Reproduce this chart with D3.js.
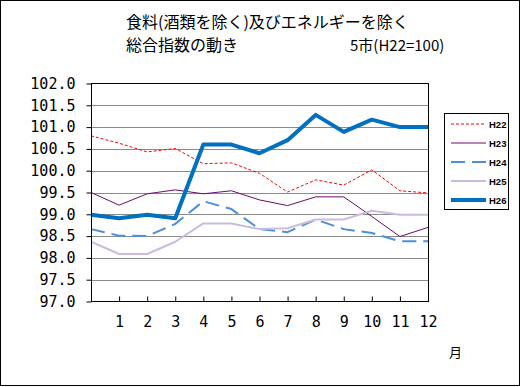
<!DOCTYPE html>
<html><head><meta charset="utf-8">
<script src="https://cdn.jsdelivr.net/npm/d3@7"></script>
<style>
html,body{margin:0;padding:0;background:#fff;}
svg{display:block;}
</style></head>
<body>
<svg id="chart" width="522" height="387"></svg>
<script>
const titleLine1 = "食料(酒類を除く)及びエネルギーを除く";
const titleLine2 = "総合指数の動き";
const titleNote = "5市(H22=100)";
const xUnit = "月";
const months = [0,1,2,3,4,5,6,7,8,9,10,11,12];
const xTickLabels = [1,2,3,4,5,6,7,8,9,10,11,12];
const yTicks = [97.0,97.5,98.0,98.5,99.0,99.5,100.0,100.5,101.0,101.5,102.0];
const seriesNames = ["H22","H23","H24","H25","H26"];
const h22 = [100.80,100.63,100.43,100.51,100.16,100.18,99.94,99.51,99.79,99.67,100.02,99.54,99.49];
const h23 = [99.50,99.21,99.47,99.56,99.47,99.54,99.33,99.20,99.40,99.40,98.95,98.49,98.70];
const h24 = [98.66,98.51,98.50,98.78,99.30,99.12,98.66,98.59,98.88,98.66,98.57,98.38,98.38];
const h25 = [98.37,98.09,98.09,98.37,98.79,98.79,98.66,98.68,98.88,98.88,99.08,98.99,98.99];
const h26 = [98.99,98.91,98.99,98.91,100.60,100.60,100.40,100.70,101.28,100.89,101.17,101.00,101.00];

const seriesValues = [h22,h23,h24,h25,h26];
const styles = [
  {color:"#ff0000", width:1, dash:"3,2"},
  {color:"#6e0a6e", width:1, dash:null},
  {color:"#4a90da", width:2, dash:"14,7"},
  {color:"#cbbcdf", width:2, dash:null},
  {color:"#0070c0", width:4, dash:null}
];

const svg = d3.select("#chart");
const L = 91, R = 428, T = 83.5, B = 301.5;
const x = d3.scaleLinear().domain([0,12]).range([L,R]);
const y = d3.scaleLinear().domain([97,102]).range([B,T]);

// outer border
svg.append("rect").attr("x",0.5).attr("y",0.5).attr("width",519).attr("height",385)
  .attr("fill","#fff").attr("stroke","#000");

// titles
const jp = "'Noto Sans CJK JP', sans-serif";
svg.append("text").attr("x",126).attr("y",28).attr("font-family",jp).attr("font-size",16)
  .text(titleLine1);
svg.append("text").attr("x",126).attr("y",51).attr("font-family",jp).attr("font-size",16)
  .text(titleLine2);
svg.append("text").attr("x",350).attr("y",51).attr("font-family",jp).attr("font-size",15)
  .text(titleNote);

// gridlines
svg.append("g").selectAll("line").data(yTicks.filter(v=>v>97 && v<102)).join("line")
  .attr("x1",L).attr("x2",R).attr("y1",d=>Math.round(y(d))+0.5).attr("y2",d=>Math.round(y(d))+0.5)
  .attr("stroke","#8a8a8a").attr("stroke-width",1);

// y axis
const yAxis = svg.append("g").attr("transform",`translate(${L+0.5},0)`)
  .call(d3.axisLeft(y).tickValues(yTicks).tickFormat(d3.format(".1f")).tickSize(5).tickPadding(11));
yAxis.select(".domain").remove();
yAxis.selectAll(".tick line").attr("stroke","#000");
yAxis.selectAll("text").attr("font-family","'DejaVu Sans Mono', monospace").attr("font-size",15).attr("fill","#000");

// x axis
const xAxis = svg.append("g").attr("transform",`translate(0,${B})`)
  .call(d3.axisBottom(x).tickValues(xTickLabels).tickSize(-5).tickPadding(15));
xAxis.select(".domain").remove();
xAxis.selectAll(".tick line").attr("stroke","#000");
xAxis.selectAll("text").attr("font-family","'DejaVu Sans Mono', monospace").attr("font-size",15).attr("fill","#000");

svg.append("text").attr("x",449).attr("y",357).attr("font-family",jp).attr("font-size",13).text(xUnit);

// series
const line = d3.line().x((d,i)=>x(months[i])).y(d=>y(d));
const plot = svg.append("g");
seriesValues.forEach((vals,k)=>{
  plot.append("path").datum(vals).attr("d",line).attr("fill","none")
    .attr("stroke",styles[k].color).attr("stroke-width",styles[k].width)
    .attr("stroke-dasharray",styles[k].dash).attr("stroke-linejoin","round");
});

// frame
svg.append("rect").attr("x",L+0.5).attr("y",T).attr("width",R-L).attr("height",B-T)
  .attr("fill","none").attr("stroke","#000");

// legend
const lg = svg.append("g");
lg.append("rect").attr("x",444.5).attr("y",113.5).attr("width",64).attr("height",96)
  .attr("fill","#fff").attr("stroke","#000");
seriesNames.forEach((name,k)=>{
  const ly = 124 + k*19;
  lg.append("line").attr("x1",451).attr("x2",486).attr("y1",ly).attr("y2",ly)
    .attr("stroke",styles[k].color).attr("stroke-width",styles[k].width)
    .attr("stroke-dasharray",styles[k].dash);
  lg.append("text").attr("x",489).attr("y",ly+3.5).attr("font-family","'Liberation Sans', Arial, sans-serif")
    .attr("font-size",9.5).attr("font-weight","bold").text(name);
});
</script>
</body></html>
